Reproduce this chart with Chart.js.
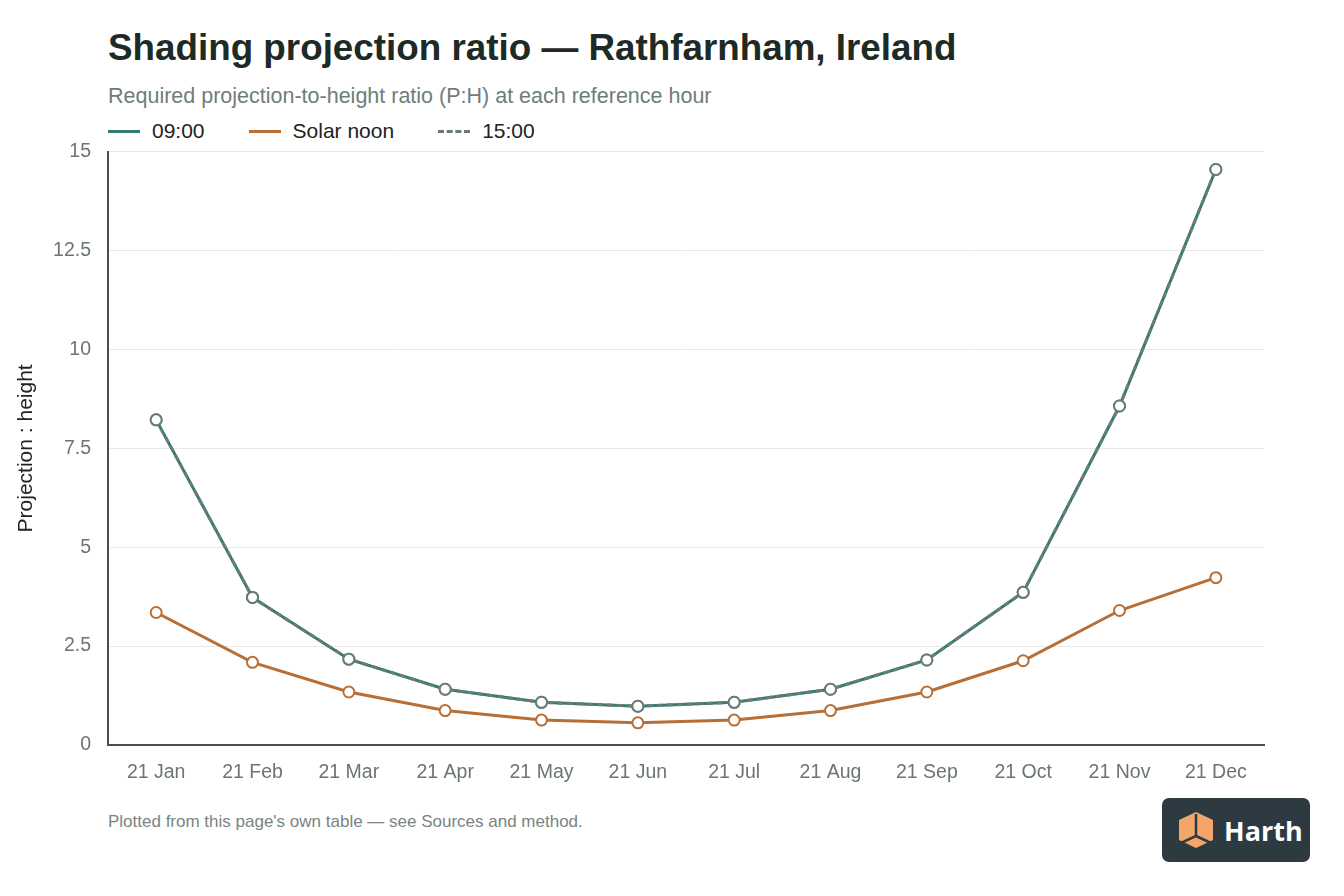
<!DOCTYPE html>
<html>
<head>
<meta charset="utf-8">
<script src="https://cdn.jsdelivr.net/npm/chart.js@4/dist/chart.umd.min.js"></script>
<style>
  html, body { margin: 0; padding: 0; background: #fff; }
  body { width: 1344px; height: 896px; position: relative; overflow: hidden; font-family: "Liberation Sans", Arial, sans-serif; }
  #title { position: absolute; left: 108px; top: 27px; font-size: 36.8px; font-weight: bold; color: #1d2a26; white-space: nowrap; }
  #subtitle { position: absolute; left: 108px; top: 84px; font-size: 21.5px; color: #6f7d7a; white-space: nowrap; }
  #legend { position: absolute; left: 108px; top: 119px; font-size: 21px; color: #222; display: flex; }
  .item { display: flex; align-items: center; margin-right: 44px; }
  .swatch { width: 32px; height: 0; border-top: 3px solid; margin-right: 12px; }
  #wrap { position: absolute; left: 0; top: 123px; width: 1280px; height: 677px; }
  #foot { position: absolute; left: 108px; top: 812px; font-size: 17px; color: #7a8482; white-space: nowrap; }
  #logo { position: absolute; left: 1162px; top: 798px; width: 148px; height: 64px; background: #2d3a42; border-radius: 7px; display: flex; align-items: center; }
  #logo span { color: #fff; font-weight: bold; font-size: 27px; margin-left: 8px; font-family: "Open Sans", "Liberation Sans", sans-serif; }
</style>
</head>
<body>
<div id="title">Shading projection ratio — Rathfarnham, Ireland</div>
<div id="subtitle">Required projection-to-height ratio (P:H) at each reference hour</div>
<div id="legend"></div>
<div id="wrap"><canvas id="chart"></canvas></div>
<div id="foot">Plotted from this page's own table — see Sources and method.</div>
<div id="logo">
  <svg width="40" height="40" viewBox="0 0 40 40" style="margin-left:14px">
    <polygon points="20,2 37,10 37,30 20,38 3,30 3,10" fill="#f4a66a"/>
    <polyline points="20,4 20,26 5,33" fill="none" stroke="#2d3a42" stroke-width="2.5"/>
    <line x1="20" y1="26" x2="35" y2="33" stroke="#2d3a42" stroke-width="2.5"/>
  </svg>
  <span>Harth</span>
</div>
<script>
const months = ['21 Jan', '21 Feb', '21 Mar', '21 Apr', '21 May', '21 Jun', '21 Jul', '21 Aug', '21 Sep', '21 Oct', '21 Nov', '21 Dec'];
const morning = [8.22, 3.73, 2.17, 1.41, 1.08, 0.98, 1.08, 1.41, 2.15, 3.86, 8.57, 14.55];
const noon = [3.35, 2.09, 1.34, 0.87, 0.63, 0.56, 0.63, 0.87, 1.34, 2.13, 3.40, 4.23];
const afternoon = [8.22, 3.73, 2.17, 1.41, 1.08, 0.98, 1.08, 1.41, 2.15, 3.86, 8.57, 14.55];
const yTicks = [0, 2.5, 5, 7.5, 10, 12.5, 15];

const TEAL = '#2f7d74';
const ORANGE = '#b76f38';
const GREY = '#6d7b78';

// order: lowest is drawn on top, so 15:00 sits over 09:00
const series = [
  { label: '09:00', data: morning, color: TEAL, dash: [], order: 2 },
  { label: 'Solar noon', data: noon, color: ORANGE, dash: [], order: 1 },
  { label: '15:00', data: afternoon, color: GREY, dash: [6, 4], order: 0 },
];

document.getElementById('legend').innerHTML = series.map((s) => `
  <div class="item">
    <div class="swatch" style="border-top-color:${s.color};border-top-style:${s.dash.length ? 'dashed' : 'solid'}"></div>
    <div>${s.label}</div>
  </div>`).join('');

const font = { family: '"Liberation Sans", Arial, sans-serif', size: 19.5 };

new Chart(document.getElementById('chart'), {
  type: 'line',
  data: {
    labels: months,
    datasets: series.map((s) => ({
      label: s.label,
      data: s.data,
      order: s.order,
      borderColor: s.color,
      borderWidth: 3,
      borderDash: s.dash,
      pointRadius: 5.5,
      pointBorderWidth: 2,
      pointBackgroundColor: '#fff',
      pointBorderColor: s.color,
      tension: 0,
    })),
  },
  options: {
    responsive: true,
    maintainAspectRatio: false,
    animation: false,
    layout: { padding: { top: 10, right: 16, left: 0, bottom: 0 } },
    plugins: { legend: { display: false }, tooltip: { enabled: false } },
    scales: {
      x: {
        offset: true,
        grid: { display: false, drawTicks: false },
        border: { color: '#4a4f4f', width: 2 },
        ticks: { color: '#6b7573', font, padding: 16, maxRotation: 0 },
        afterFit: (s) => { s.height = 55; },
      },
      y: {
        min: 0,
        max: 15,
        afterBuildTicks: (s) => { s.ticks = yTicks.map((v) => ({ value: v })); },
        grid: { color: '#e6e9e8', drawTicks: false, lineWidth: 1 },
        border: { color: '#4a4f4f', width: 2 },
        ticks: { color: '#6b7573', font, padding: 17 },
        title: { display: true, text: 'Projection : height', color: '#222', font: { family: font.family, size: 21 }, padding: { top: 14, bottom: 0 } },
        afterFit: (s) => { s.width = 108; },
      },
    },
  },
});
</script>
</body>
</html>
